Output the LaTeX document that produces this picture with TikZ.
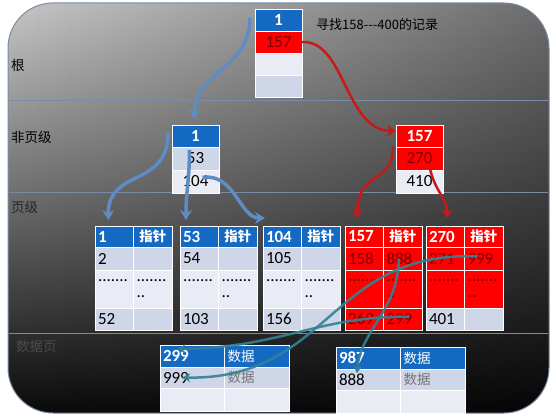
\documentclass[tikz,border=0pt]{standalone}
\usepackage{fontspec}
\setmainfont{Carlito}
\newfontfamily\cjk{Noto Sans CJK SC}
\usetikzlibrary{calc,arrows.meta,fadings,positioning}
\definecolor{hdrblue}{RGB}{20,105,195}
\definecolor{rowa}{RGB}{207,214,232}
\definecolor{rowb}{RGB}{233,236,245}
\definecolor{keyred}{RGB}{255,0,0}
\definecolor{darkred}{RGB}{125,0,0}
\definecolor{bluearrow}{RGB}{95,140,195}
\definecolor{redarrow}{RGB}{200,25,25}
\definecolor{tealarrow}{RGB}{50,130,150}
\definecolor{sepline}{RGB}{120,140,165}
\newcommand\numfont{\fontsize{17}{16}\selectfont}
\newcommand\hanfont{\cjk\fontsize{13.5}{15}\selectfont}

\begin{document}
\begin{tikzpicture}[x=1pt,y=-1pt]

\tikzset{cell/.style={draw=white,line width=.8pt,anchor=north west,outer sep=0pt,inner ysep=0pt,inner xsep=3pt,font=\numfont,align=left},
key/.style={cell,align=center,text width=41pt,minimum height=22pt},
leaf/.style={cell,text width=32.5pt,minimum height=21pt},
datacell/.style={cell,text width=58.5pt,minimum height=22pt},
hdr/.style={fill=hdrblue,text=white,font=\numfont\bfseries},
redhdr/.style={fill=keyred,text=white,font=\numfont\bfseries},
redrow/.style={fill=keyred,text=darkred},
hanhdr/.style={font=\hanfont\bfseries,align=center},
layer/.style={anchor=west,font=\hanfont,inner sep=0pt},
bluearr/.style={bluearrow,line width=3.5pt,-{Stealth[length=10pt,width=12pt]}},
redarr/.style={redarrow,line width=2.5pt,-{Stealth[length=9pt,width=11pt]}},
tealarr/.style={tealarrow,line width=2.5pt,opacity=.9,-{Stealth[length=8pt,width=9pt]}}}

% Background
\useasboundingbox (0,0) rectangle (556,419);
\shade[rounded corners=45pt,top color=black!22,bottom color=black!96] (8,3) rectangle (549,413);
\fill[black,opacity=.45,path fading=west,rounded corners=45pt] (8,3) rectangle (549,413);
\draw[sepline,line width=1pt,rounded corners=45pt] (8,3) rectangle (549,413);
\foreach \y in {100,192,333} \draw[sepline,line width=.8pt] (9,\y) -- (548,\y); % levels

% Level labels
\node[layer] (lroot) at (11,65) {根};
\node[layer] (linner) at (11,137) {非页级};
\node[layer,text=black!85] (lleaf) at (11,207) {页级};
\node[layer,text=black!70] (ldata) at (16,346) {数据页};

% Root page
\node[key,hdr] (r0) at (255,9) {1};
\node[key,redrow] (r1) at (r0.south west) {157};
\node[key,fill=rowb] (r2) at (r1.south west) {};
\node[key,fill=rowa] (r3) at (r2.south west) {};
\node[anchor=west,font=\cjk\fontsize{13}{15}\selectfont,inner sep=0pt] (find) at ($(r0.east)+(14,5)$) {寻找158-{}-{}-400的记录};

% Non-leaf pages
\node[key,hdr] (n1h) at (172,125) {1};
\node[key,fill=rowa,minimum height=23pt] (n1a) at (n1h.south west) {53};
\node[key,fill=rowb,minimum height=23pt] (n1b) at (n1a.south west) {104};
\node[key,redhdr] (n2h) at (396,125) {157};
\node[key,redrow,minimum height=23pt] (n2a) at (n2h.south west) {270};
\node[key,fill=rowb,minimum height=23pt] (n2b) at (n2a.south west) {410};

% Leaf pages
\foreach \n/\x/\a/\b/\c in {la/95/1/2/52,lb/180/53/54/103,lc/263/104/105/156}{
  \node[leaf,hdr] (\n h1) at (\x,226) {\a};
  \node[leaf,hdr,hanhdr] (\n h2) at (\n h1.north east) {指针};
  \node[leaf,fill=rowa,minimum height=23pt] (\n a1) at (\n h1.south west) {\b};
  \node[leaf,fill=rowa,minimum height=23pt] (\n a2) at (\n a1.north east) {};
  \node[leaf,fill=rowb,minimum height=38pt] (\n b1) at (\n a1.south west) {.......\\\mbox{}};
  \node[leaf,fill=rowb,minimum height=38pt] (\n b2) at (\n b1.north east) {.......\\..};
  \node[leaf,fill=rowa,minimum height=22pt] (\n c1) at (\n b1.south west) {\c};
  \node[leaf,fill=rowa,minimum height=22pt] (\n c2) at (\n c1.north east) {};
}
\node[leaf,redhdr] (ldh1) at (345,226) {157};
\node[leaf,redhdr,hanhdr] (ldh2) at (ldh1.north east) {指针};
\node[leaf,redrow,minimum height=23pt] (lda1) at (ldh1.south west) {158};
\node[leaf,redrow,minimum height=23pt] (lda2) at (lda1.north east) {888};
\node[leaf,redrow,minimum height=38pt] (ldb1) at (lda1.south west) {.......\\\mbox{}};
\node[leaf,redrow,minimum height=38pt] (ldb2) at (ldb1.north east) {.......\\..};
\node[leaf,redrow,minimum height=22pt] (ldc1) at (ldb1.south west) {269};
\node[leaf,redrow,minimum height=22pt] (ldc2) at (ldc1.north east) {299};
\node[leaf,redhdr] (leh1) at (426,226) {270};
\node[leaf,redhdr,hanhdr] (leh2) at (leh1.north east) {指针};
\node[leaf,redrow,minimum height=23pt] (lea1) at (leh1.south west) {271};
\node[leaf,redrow,minimum height=23pt] (lea2) at (lea1.north east) {999};
\node[leaf,redrow,minimum height=38pt] (leb1) at (lea1.south west) {.......\\\mbox{}};
\node[leaf,redrow,minimum height=38pt] (leb2) at (leb1.north east) {.......\\..};
\node[leaf,fill=rowa,minimum height=22pt] (lec1) at (leb1.south west) {401};
\node[leaf,fill=rowa,minimum height=22pt] (lec2) at (lec1.north east) {};

% Data pages
\foreach \n/\x/\y/\k/\v in {da/160/345/299/999,db/336/347/987/888}{
  \node[datacell,hdr] (\n h1) at (\x,\y) {\k};
  \node[datacell,hdr,font=\hanfont] (\n h2) at (\n h1.north east) {数据};
  \node[datacell,fill=rowa,minimum height=21pt] (\n a1) at (\n h1.south west) {\v};
  \node[datacell,fill=rowa,minimum height=21pt,text=black!55,font=\hanfont] (\n a2) at (\n a1.north east) {数据};
  \node[datacell,fill=rowb,minimum height=23pt] (\n b1) at (\n a1.south west) {};
  \node[datacell,fill=rowb,minimum height=23pt] (\n b2) at (\n b1.north east) {};
}

% Blue search paths
\draw[bluearr] ($(r0.west)+(-5,-2)$) .. controls +(0,52) and +(0,-48) .. ($(n1h.north)+(-1,-6)$);
\draw[bluearr] ($(n1h.west)+(-4,-3)$) .. controls +(0,55) and +(0,-52) .. ($(lah1.north)+(-6,-6)$);
\draw[bluearr] ($(n1a.north)+(-6,3)$) .. controls +(0,30) and +(0,-30) .. ($(lbh1.north west)+(6,-6)$);
\draw[bluearr] ($(n1b.center)+(7,-4)$) .. controls +(32,-5) and +(-25,0) .. ($(lch1.north west)+(2,-8)$);

% Red search paths
\draw[redarr] (r1.east) .. controls +(43,-2) and +(-51,-1) .. ($(n2h.west)+(0,-5)$);
\draw[redarr] ($(n2a.north west)+(-3,0)$) .. controls +(0,38) and +(0,-48) .. ($(ldh1.north)+(-7,-8)$);
\draw[redarr] ($(n2a.center)+(10,8)$) .. controls +(5,25) and +(0,-20) .. ($(leh1.north)+(2,-8)$);

% Pointers to data pages
\draw[tealarr] ($(lea2.center)+(-6,-2)$) .. controls (330,250) and (330,380) .. ($(daa1.center)+(-10,0)$);
\draw[tealarr] ($(ldc2.center)+(6,-2)$) .. controls +(-88,-2) and +(103,-1) .. ($(dah1.center)+(-15,-7)$);
\draw[tealarr] ($(lda2.center)+(-4,0)$) .. controls +(0,52) and +(3,-43) .. ($(dba1.west)+(21,-6)$);

\end{tikzpicture}
\end{document}
